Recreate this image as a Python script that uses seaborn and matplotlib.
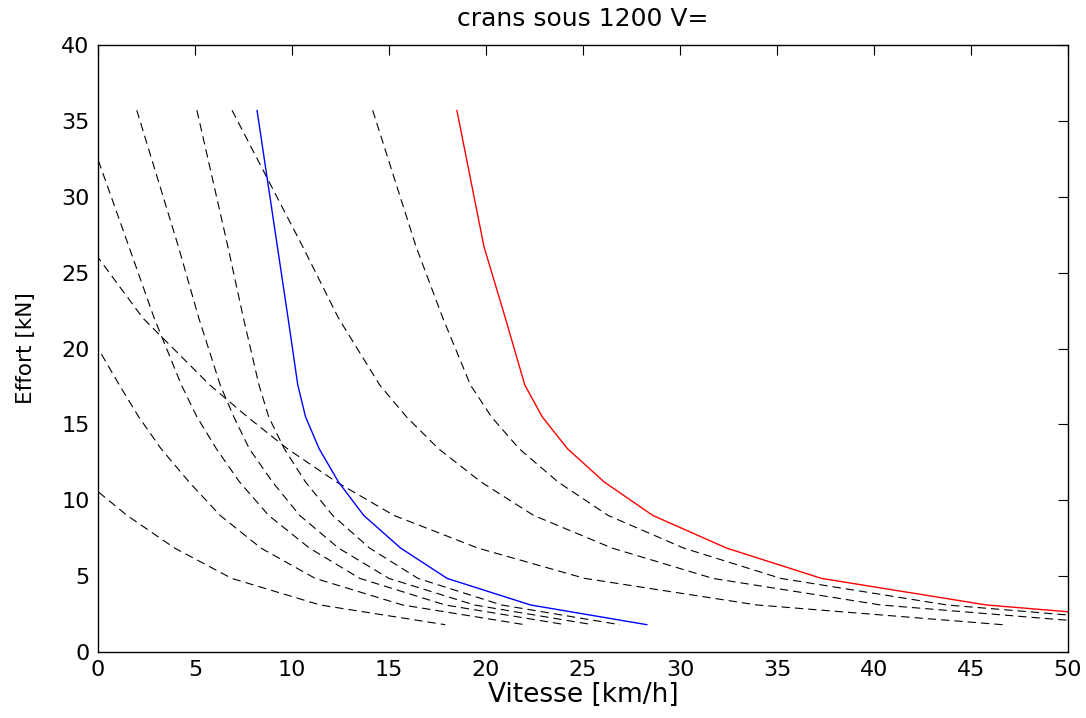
import pandas as pd
import matplotlib
matplotlib.use("Agg")
import matplotlib.pyplot as plt
import seaborn as sns

# effort levels shared by every curve (kN)
effort = [35.7, 26.7, 22.0, 17.6, 15.5, 13.4, 11.2, 9.0, 6.85, 4.85, 3.1, 1.8]

# vitesse (km/h) of each curve at those effort levels
v_serie = [8.2, 9.25, 9.8, 10.3, 10.7, 11.4, 12.4, 13.7, 15.6, 18.0, 22.3, 28.3]
v_parallele = [18.5, 19.9, 21.0, 22.0, 22.9, 24.2, 26.1, 28.6, 32.4, 37.3, 45.8, 58.0]

v_serie_r1 = [5.1, 6.7, 7.5, 8.3, 8.8, 9.6, 10.7, 12.1, 14.0, 16.5, 20.8, 26.9]
v_serie_r2 = [2.0, 4.15, 5.2, 6.3, 7.0, 7.8, 9.0, 10.4, 12.4, 15.0, 19.4, 25.5]
v_serie_r3 = [-0.9, 1.6, 2.9, 4.3, 5.1, 6.1, 7.3, 8.8, 10.9, 13.5, 17.9, 24.1]
v_serie_r4 = [-6.2, -2.6, -0.9, 1.1, 2.1, 3.25, 4.7, 6.3, 8.4, 11.2, 15.7, 22.0]
v_serie_r5 = [-15.5, -10.3, -7.8, -5.1, -3.7, -2.3, -0.6, 1.5, 3.95, 6.9, 11.45, 17.9]

v_para_r1 = [14.16, 16.4, 17.78, 19.2, 20.28, 21.71, 23.72, 26.3, 30.19, 35.2, 43.76, 56.04]
v_para_r2 = [6.91, 10.56, 12.4, 14.52, 15.9, 17.55, 19.75, 22.46, 26.5, 31.7, 40.35, 52.77]
v_para_r3 = [-6.67, -0.4, 2.32, 5.76, 7.7, 9.76, 12.3, 15.26, 19.58, 25.1, 33.97, 46.63]

dashed = [v_serie_r1, v_serie_r2, v_serie_r3, v_serie_r4, v_serie_r5,
          v_para_r1, v_para_r2, v_para_r3]

sns.set_theme(style="white")
plt.rcParams['font.family'] = ['DejaVu Sans']
plt.rcParams['text.color'] = 'black'
plt.rcParams['axes.labelcolor'] = 'black'

fig = plt.figure(figsize=(10.86, 7.18), dpi=100)
ax = fig.add_axes([0.0902, 0.0919, 0.8932, 0.8454])

for v in dashed:
    df = pd.DataFrame({'Vitesse': v, 'Effort': effort})
    sns.lineplot(data=df, x='Vitesse', y='Effort', sort=False, estimator=None,
                 color='black', linewidth=0.8, linestyle=(0, (7.5, 4.5)), ax=ax)

df = pd.DataFrame({'Vitesse': v_serie, 'Effort': effort})
sns.lineplot(data=df, x='Vitesse', y='Effort', sort=False, estimator=None,
             color='#0000ff', linewidth=1.0, ax=ax)
df = pd.DataFrame({'Vitesse': v_parallele, 'Effort': effort})
sns.lineplot(data=df, x='Vitesse', y='Effort', sort=False, estimator=None,
             color='#ff0000', linewidth=1.0, ax=ax)

ax.set_xlim(0, 50)
ax.set_ylim(0, 40)
ax.set_xticks(range(0, 51, 5))
ax.set_yticks(range(0, 41, 5))
ax.tick_params(direction='in', length=7, width=0.8, top=True, right=True,
               labelsize=16, colors='black', pad=6)
for s in ax.spines.values():
    s.set_color('black')
    s.set_linewidth(1.0)

ax.set_xlabel('Vitesse [km/h]', fontsize=19, labelpad=1)
ax.set_ylabel('Effort [kN]', fontsize=15.5, labelpad=18)
ax.set_title('crans sous 1200 V=', fontsize=18, pad=14)

fig.savefig('out.png', dpi=100, facecolor='white')
